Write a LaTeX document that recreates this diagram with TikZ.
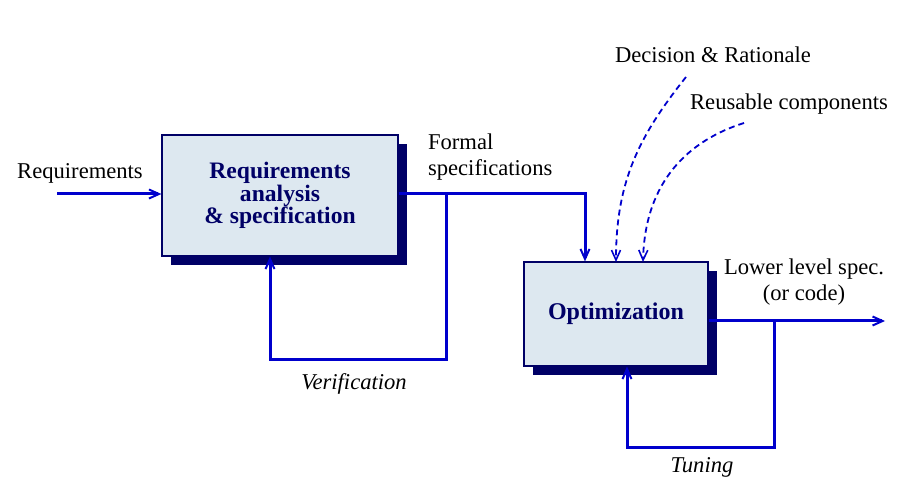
\documentclass[tikz,border=0pt]{standalone}
\usepackage{fontspec}
\setmainfont{Liberation Serif}
\usetikzlibrary{shadows,arrows.meta}
\definecolor{navy}{HTML}{000066}
\definecolor{lineblue}{HTML}{0000CC}
\definecolor{boxfill}{HTML}{DDE8F0}
\tikzset{
  procbox/.style={draw=navy, line width=0.6pt, fill=boxfill, align=center,
    text=navy, font=\fontsize{11.8}{11.3}\selectfont\bfseries,
    drop shadow={shadow xshift=4.5pt, shadow yshift=-4.5pt, fill=navy, opacity=1}},
  flow/.style={draw=lineblue, line width=1.5pt, -{Straight Barb[length=5pt,width=4.5pt,line width=1pt]}},
  dashflow/.style={draw=lineblue, line width=0.9pt, dashed, dash pattern=on 3pt off 2pt,
    -{Straight Barb[length=5pt,width=4.5pt,line width=0.8pt]}},
  lbl/.style={font=\fontsize{11.3}{13.3}\selectfont, text=black, align=center},
  ilbl/.style={font=\fontsize{11.3}{13.3}\selectfont\itshape, text=black}
}
\begin{document}
\begin{tikzpicture}[x=0.5pt,y=-0.5pt]
\useasboundingbox (0,0) rectangle (906,486);
% boxes
\node[procbox, minimum width=118pt, minimum height=60.5pt] (box1) at (280,195.5)
  {Requirements\\analysis\\\& specification};
\node[procbox, minimum width=92pt, minimum height=52pt, font=\fontsize{12}{13}\selectfont\bfseries] (box2) at (616,314)
  {Optimization};
% labels
\node[lbl] (reqlbl) at (80,173) {Requirements};
\node[lbl, anchor=west, align=left] (formal) at (421,157) {Formal\\specifications};
\node[ilbl] (verif) at (354,384) {Verification};
\node[ilbl] (tuning) at (702,467) {Tuning};
\node[lbl] (lower) at (804,282) {Lower level spec.\\(or code)};
\node[lbl] (decision) at (713,55) {Decision \& Rationale};
\node[lbl] (reusable) at (789,104) {Reusable components};
% coordinates
\coordinate (in) at (57,194);
\coordinate (c1) at (585,194);
\coordinate (b1) at (446,194);
\coordinate (v1) at (270,360);
\coordinate (out) at (885,321);
\coordinate (b2) at (774,321);
\coordinate (v2) at (627,448);
\coordinate (d1) at (686,77);
\coordinate (d1e) at (616,262);
\coordinate (d2) at (744,123);
\coordinate (d2e) at (643,262);
% connectors
\draw[flow] (in) -- (in -| box1.west);
\draw[flow] (box1.east |- c1) -- (c1) -- (c1 |- box2.north);
\draw[flow] (b1) |- (v1) -- (v1 |- box1.south);
\draw[flow] (box2.east |- out) -- (out);
\draw[flow] (b2) |- (v2) -- (v2 |- box2.south);
\draw[dashflow] (d1) .. controls (640,135) and (616,180) .. (d1e);
\draw[dashflow] (d2) .. controls (690,140) and (645,180) .. (d2e);
\end{tikzpicture}
\end{document}
